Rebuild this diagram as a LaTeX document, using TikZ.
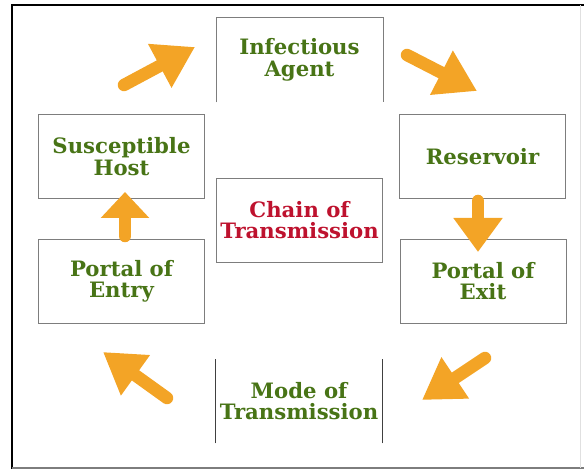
\documentclass[tikz,border=0pt]{standalone}
\usepackage{fontspec}
\setmainfont{DejaVu Serif}
\usepackage{xcolor}
\definecolor{primary}{RGB}{72, 116, 22}
\definecolor{accent}{RGB}{190, 18, 46}
\definecolor{arrowc}{RGB}{243, 164, 38}
\definecolor{edge}{RGB}{125, 125, 125}
\usepackage{tikz}
\usetikzlibrary{calc,arrows.meta}

\tikzset{
  stage/.style = {
    draw          = edge,
    line width    = 0.8pt,
    fill          = white,
    minimum width = 166pt,
    minimum height= 84pt,
    inner sep     = 0pt,
    align         = center,
    text          = primary,
    font          = \fontsize{21.2}{21.5}\selectfont\bfseries
  },
  flow/.style = {
    draw        = arrowc,
    line width  = 12.5pt,
    line cap    = round,
    -{Triangle[length=#1, width=47pt]}
  },
  flow/.default = 40pt
}

\begin{document}
\begin{tikzpicture}[x=1pt, y=-1pt]
  \useasboundingbox (0,0) rectangle (584,470);

  % frame
  \draw[line width=2pt] (584,5) -- (12,5) -- (12,469);
  \draw[edge, line width=1.2pt] (12,468) -- (584,468);
  \draw[black!12, line width=0.8pt] (580,5) -- (580,468);

  % the six stages and the centre
  \node[stage, draw=none] (agent) at (299.5,60)  {Infectious\\Agent};
  \node[stage] (reservoir) at (482.5,156.5) {Reservoir};
  \node[stage] (exit)      at (483,281)     {Portal of\\Exit};
  \node[stage, draw=none] (mode) at (299,401) {Mode of\\Transmission};
  \node[stage] (entry)     at (121.5,281.5) {Portal of\\Entry};
  \node[stage] (host)      at (121.5,156.5) {Susceptible\\Host};
  \node[stage, text=accent] (chain) at (299.5,220) {Chain of\\Transmission};

  % open sides
  \draw[edge, line width=0.8pt]
    (agent.south west) -- (agent.north west) -- (agent.north east) -- (agent.south east);
  \draw[black!75, line width=0.8pt] (mode.south west) -- (mode.north west);
  \draw[black!75, line width=0.8pt] (mode.south east) -- (mode.north east);

  % arrow ends
  \coordinate (hostOut)  at (124,85);
  \coordinate (agentIn)  at (195,47);
  \coordinate (agentOut) at (407,55);
  \coordinate (resIn)    at (477,91);
  \coordinate (resOut)   at (478,201);
  \coordinate (exitIn)   at (478,252);
  \coordinate (exitOut)  at (485,358);
  \coordinate (modeIn)   at (422,400);
  \coordinate (modeOut)  at (167,398);
  \coordinate (entryIn)  at (103,352);
  \coordinate (entryOut) at (125,236);
  \coordinate (hostIn)   at (125,192);

  \draw[flow]      (hostOut)  -- (agentIn);
  \draw[flow]      (agentOut) -- (resIn);
  \draw[flow=34pt] (resOut)   -- (exitIn);
  \draw[flow]      (exitOut)  -- (modeIn);
  \draw[flow]      (modeOut)  -- (entryIn);
  \draw[flow=26pt] (entryOut) -- (hostIn);
\end{tikzpicture}
\end{document}
